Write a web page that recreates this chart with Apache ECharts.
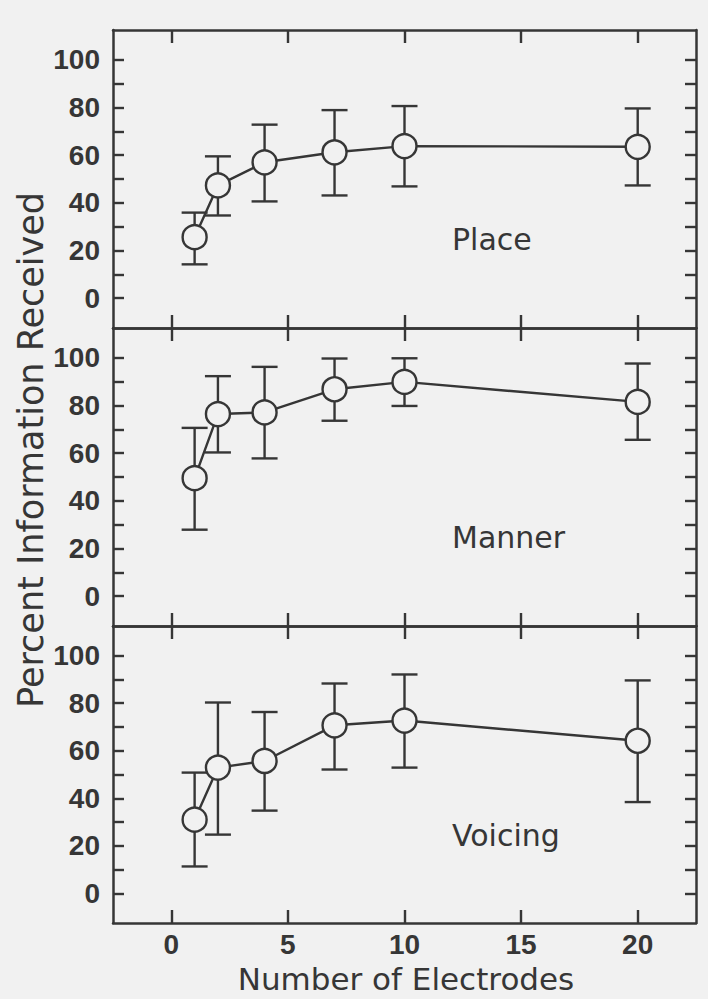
<!DOCTYPE html>
<html>
<head>
<meta charset="utf-8">
<title>Percent Information Received vs Number of Electrodes</title>
<script src="https://cdn.jsdelivr.net/npm/echarts@6/dist/echarts.min.js"></script>
<style>
    html, body { margin: 0; padding: 0; background: #ffffff; }
    #chart { width: 708px; height: 999px; }
</style>
</head>
<body>
<div id="chart"></div>
<script>
// values
const electrodes = [1, 2, 4, 7, 10, 20];

const placeMean = [25.6, 47.3, 57.0, 61.2, 63.8, 63.5];
const placeLow = [14.2, 34.7, 40.6, 43.1, 46.9, 47.3];
const placeHigh = [35.9, 59.5, 72.8, 78.9, 80.6, 79.6];

const mannerMean = [49.5, 76.4, 77.1, 86.8, 89.9, 81.5];
const mannerLow = [27.9, 60.3, 57.8, 73.6, 79.8, 65.6];
const mannerHigh = [70.6, 92.3, 96.2, 99.7, 99.8, 97.6];

const voicingMean = [31.0, 52.9, 55.7, 70.7, 72.7, 64.2];
const voicingLow = [11.3, 24.7, 34.8, 52.1, 52.9, 38.4];
const voicingHigh = [50.8, 80.3, 76.3, 88.3, 92.1, 89.6];

const panelNames = ['Place', 'Manner', 'Voicing'];
const xTicks = [0, 5, 10, 15, 20];
const yTicks = [0, 10, 20, 30, 40, 50, 60, 70, 80, 90, 100];
const yLabels = [0, 20, 40, 60, 80, 100];

const xTitle = 'Number of Electrodes';
const yTitle = 'Percent Information Received';

let ink = '#363636';
let paper = '#f1f1f1';
let labelFont = {
    fontFamily: '"Liberation Sans Narrow", "Liberation Sans", Arial, sans-serif',
    fontWeight: 'bold',
    fontSize: 28,
    color: ink
};

let panels = [
    { mean: placeMean, low: placeLow, high: placeHigh },
    { mean: mannerMean, low: mannerLow, high: mannerHigh },
    { mean: voicingMean, low: voicingLow, high: voicingHigh }
];
let gridTops = [30, 328, 626];
let gridHeights = [298, 298, 297];

let chart = echarts.init(document.getElementById('chart'), null, { renderer: 'svg' });

let grids = [], xAxes = [], yAxes = [], series = [], texts = [];

/**
 * Error bar: vertical stem with two caps
 */
function renderErrorBar(params, api) {
    let x = api.value(0);
    let top = api.coord([x, api.value(2)]);
    let bottom = api.coord([x, api.value(1)]);
    let half = 13;
    let style = { stroke: ink, lineWidth: 2.4, fill: null };
    return {
        type: 'group',
        children: [
            { type: 'line', shape: { x1: top[0], y1: top[1], x2: bottom[0], y2: bottom[1] }, style: style },
            { type: 'line', shape: { x1: top[0] - half, y1: top[1], x2: top[0] + half, y2: top[1] }, style: style },
            { type: 'line', shape: { x1: bottom[0] - half, y1: bottom[1], x2: bottom[0] + half, y2: bottom[1] }, style: style }
        ]
    };
}

panels.forEach(function (p, i) {
    let last = i === panels.length - 1;
    grids.push({ left: 113, right: 12, top: gridTops[i], height: gridHeights[i] });

    ['bottom', 'top'].forEach(function (pos) {
        xAxes.push({
            type: 'value',
            gridIndex: i,
            position: pos,
            min: -2.5,
            max: 22.5,
            axisLine: { show: true, onZero: false, lineStyle: { color: ink, width: 2.5 } },
            axisTick: { show: true, inside: true, length: 13, customValues: xTicks, lineStyle: { color: ink, width: 2.4 } },
            axisLabel: Object.assign({ show: last && pos === 'bottom', margin: 7, customValues: xTicks }, labelFont),
            splitLine: { show: false }
        });
    });

    ['left', 'right'].forEach(function (pos) {
        yAxes.push({
            type: 'value',
            gridIndex: i,
            position: pos,
            min: -12.5,
            max: 112.5,
            axisLine: { show: true, onZero: false, lineStyle: { color: ink, width: 2.5 } },
            axisTick: { show: true, inside: true, length: 11, customValues: yTicks, lineStyle: { color: ink, width: 2.4 } },
            axisLabel: Object.assign({ show: pos === 'left', margin: 13, customValues: yLabels }, labelFont),
            splitLine: { show: false }
        });
    });

    series.push({
        type: 'custom',
        xAxisIndex: i * 2,
        yAxisIndex: i * 2,
        renderItem: renderErrorBar,
        encode: { x: 0, y: [1, 2] },
        data: electrodes.map(function (x, k) { return [x, p.low[k], p.high[k]]; }),
        z: 2,
        silent: true
    });

    series.push({
        type: 'line',
        name: panelNames[i],
        xAxisIndex: i * 2,
        yAxisIndex: i * 2,
        data: electrodes.map(function (x, k) { return [x, p.mean[k]]; }),
        symbol: 'circle',
        symbolSize: 24,
        lineStyle: { color: ink, width: 2.4 },
        itemStyle: { color: paper, borderColor: ink, borderWidth: 2.4 },
        z: 3,
        silent: true
    });

    texts.push({
        type: 'text',
        left: 452,
        top: gridTops[i] + 194,
        style: {
            text: panelNames[i],
            fontFamily: '"DejaVu Sans", sans-serif',
            fontSize: 30,
            fill: ink
        }
    });
});

let option = {
    backgroundColor: paper,
    animation: false,
    grid: grids,
    xAxis: xAxes,
    yAxis: yAxes,
    series: series,
    graphic: texts.concat([
        {
            type: 'text',
            x: 31,
            y: 450,
            rotation: Math.PI / 2,
            style: {
                text: yTitle,
                fontFamily: '"DejaVu Sans", sans-serif',
                fontSize: 35,
                fill: ink,
                align: 'center',
                verticalAlign: 'middle'
            }
        },
        {
            type: 'text',
            x: 406,
            y: 979,
            style: {
                text: xTitle,
                fontFamily: '"DejaVu Sans", sans-serif',
                fontSize: 31,
                fill: ink,
                align: 'center',
                verticalAlign: 'middle'
            }
        }
    ])
};

option && chart.setOption(option);
</script>
</body>
</html>
